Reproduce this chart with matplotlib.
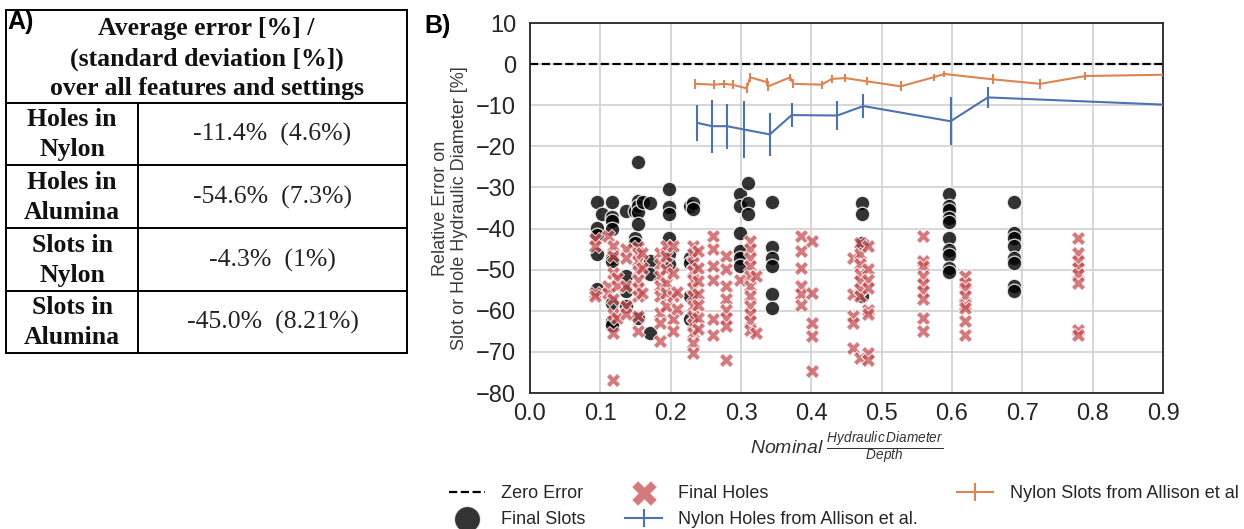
import matplotlib
matplotlib.use('Agg')
import matplotlib.pyplot as plt

plt.rcParams['font.family'] = ['Liberation Sans', 'DejaVu Sans']
plt.rcParams['mathtext.fontset'] = 'custom'
plt.rcParams['mathtext.it'] = 'Liberation Sans:italic'
plt.rcParams['mathtext.rm'] = 'Liberation Sans'

# ---------------- Data ----------------
# Nylon holes from Allison et al. (blue)
nylon_holes_x = [0.238, 0.259, 0.280, 0.304, 0.341, 0.372, 0.437, 0.474, 0.598, 0.651, 1.0]
nylon_holes_y = [-14.3, -15.1, -15.1, -15.9, -17.1, -12.4, -12.5, -10.2, -13.9, -8.1, -10.55]
nylon_holes_err = [4.4, 6.4, 5.5, 6.9, 5.2, 3.0, 3.6, 2.85, 5.8, 2.6, 0.0]

# Nylon slots from Allison et al. (orange)
nylon_slots_x = [0.235, 0.262, 0.276, 0.289, 0.308, 0.313, 0.337, 0.339, 0.370, 0.3745,
                 0.415, 0.429, 0.448, 0.479, 0.527, 0.574, 0.589, 0.658, 0.7255, 0.7895, 1.0]
nylon_slots_y = [-4.8, -5.0, -4.8, -5.05, -5.9, -3.2, -4.4, -5.4, -3.2, -4.8,
                 -5.0, -3.6, -3.4, -4.2, -5.4, -3.2, -2.4, -3.7, -4.8, -2.9, -2.3]
nylon_slots_err = [1.2, 1.1, 0.9, 1.1, 1.2, 1.1, 1.0, 1.2, 0.9, 1.1,
                   1.0, 1.0, 1.0, 1.0, 1.2, 0.9, 0.8, 1.2, 1.2, 1.0, 0.0]

# Final slots (black circles): column x positions and the y values of each column
slot_cols_x = [0.095, 0.102, 0.117, 0.137, 0.149, 0.154, 0.161, 0.171, 0.198,
               0.227, 0.232, 0.2985, 0.3103, 0.3435, 0.4715, 0.596, 0.6885]
slot_cols_y = [
    [-33.5, -39.8, -41.5, -46.3, -54.8],
    [-36.5],
    [-33.5, -37.3, -38.1, -40.2, -47.1, -47.9, -58.0, -62.5, -63.5],
    [-35.7, -51.6, -55.2, -58.9],
    [-35.7, -42.2, -43.5],
    [-23.9, -33.3, -34.5, -36.0, -39.0, -61.7],
    [-33.5],
    [-33.7, -47.9, -51.1, -65.4],
    [-30.4, -34.8, -36.5, -42.2, -46.3, -48.7],
    [-34.5, -47.1, -48.3, -56.4, -62.1],
    [-33.7, -35.3],
    [-31.6, -34.5, -41.0, -45.5, -47.1, -49.1],
    [-28.8, -33.7, -36.5],
    [-33.5, -44.6, -47.1, -49.1, -56.0, -59.3],
    [-33.7, -36.5, -43.5, -56.5],
    [-31.6, -34.5, -35.5, -37.5, -38.5, -42.4, -45.3, -46.5, -49.5, -50.5],
    [-33.5, -41.0, -42.2, -44.2, -47.1, -48.3, -54.0, -55.2],
]

# Final holes (red X): column x positions and the y values of each column
hole_cols_x = [0.093, 0.111, 0.1185, 0.123, 0.137, 0.154, 0.159, 0.185, 0.194, 0.204,
               0.2085, 0.232, 0.239, 0.2597, 0.2786, 0.2985, 0.3127, 0.322, 0.386,
               0.4005, 0.4597, 0.469, 0.481, 0.559, 0.619, 0.779]
hole_cols_y = [
    [-42.6, -44.2, -55.6, -56.4],
    [-41.8, -54.0, -55.6],
    [-44.2, -46.7, -50.7, -57.2, -60.9, -65.4, -76.8],
    [-52.0, -54.0, -61.7],
    [-45.0, -47.1, -54.0, -58.9, -60.9],
    [-44.6, -45.9, -47.9, -50.3, -52.4, -54.4, -56.4, -61.3, -65.0],
    [-45.9, -49.5, -55.6],
    [-45.9, -48.7, -51.6, -54.0, -56.4, -60.5, -62.9, -67.4],
    [-44.2, -46.7, -49.9, -53.2, -55.6, -58.9],
    [-44.2, -50.7, -56.4, -62.1, -65.0],
    [-55.5, -59.5],
    [-44.2, -46.3, -48.3, -50.3, -52.4, -54.4, -56.4, -58.9, -61.3, -63.3, -65.4, -67.8, -70.2],
    [-45.5, -49.5, -52.8, -56.0, -58.5, -61.7, -64.5],
    [-41.8, -45.0, -49.1, -52.4, -62.1, -65.8],
    [-46.7, -49.9, -54.0, -57.2, -59.7, -61.7, -63.8, -71.9],
    [-52.4],
    [-43.0, -45.0, -47.1, -49.1, -51.6, -54.0, -56.4, -58.9, -60.9, -62.5, -64.6],
    [-51.6, -65.4],
    [-41.8, -45.5, -49.5, -54.0, -56.0, -58.5],
    [-43.0, -55.6, -62.9, -66.2, -74.7],
    [-47.1, -56.0, -61.3, -62.9, -69.0],
    [-43.4, -46.3, -48.7, -51.1, -52.8, -54.8, -56.4, -71.5],
    [-44.2, -49.9, -52.4, -54.4, -59.7, -60.9, -70.2, -71.9],
    [-41.8, -47.9, -49.1, -51.6, -53.6, -55.2, -57.2, -61.7, -65.0],
    [-51.6, -53.2, -54.4, -56.4, -58.5, -59.3, -62.5, -65.8],
    [-42.2, -45.9, -47.9, -49.5, -51.1, -53.2, -64.6, -65.8],
]

x_ticks = [0.0, 0.1, 0.2, 0.3, 0.4, 0.5, 0.6, 0.7, 0.8, 0.9]
y_ticks = [-80, -70, -60, -50, -40, -30, -20, -10, 0, 10]

# Table (panel A)
table_header = ["Average error [%] /", "(standard deviation [%])", "over all features and settings"]
table_rows = [("Holes in", "Nylon"), ("Holes in", "Alumina"), ("Slots in", "Nylon"), ("Slots in", "Alumina")]
table_values = ["-11.4%  (4.6%)", "-54.6%  (7.3%)", "-4.3%  (1%)", "-45.0%  (8.21%)"]

# ---------------- Figure ----------------
W, H = 1244, 529
fig = plt.figure(figsize=(W / 100, H / 100), dpi=100)

# Panel A table drawn in pixel coordinates
axt = fig.add_axes([0, 0, 1, 1])
axt.set_xlim(0, W)
axt.set_ylim(H, 0)
axt.axis('off')
L, R, C = 6, 407, 138
row_lines = [10, 102.5, 165, 228.3, 291, 352.5]
lk = dict(color='black', lw=1.4)
axt.plot([L, L], [row_lines[0], row_lines[-1]], **lk)
axt.plot([R, R], [row_lines[0], row_lines[-1]], **lk)
for yy in row_lines:
    axt.plot([L, R], [yy, yy], **lk)
axt.plot([C, C], [row_lines[1], row_lines[-1]], **lk)
serif = ['Liberation Serif', 'DejaVu Serif']
for i, line in enumerate(table_header):
    axt.text((L + R) / 2, [28, 59, 89][i], line, ha='center', va='center',
             family=serif, weight='bold', fontsize=18.5, color='#111111')
for i, (lab, val) in enumerate(zip(table_rows, table_values)):
    y0, y1 = row_lines[i + 1], row_lines[i + 2]
    yc = (y0 + y1) / 2
    axt.text((L + C) / 2, yc - 14, lab[0], ha='center', va='center', family=serif,
             weight='bold', fontsize=18.5, color='#111111')
    axt.text((L + C) / 2, yc + 16, lab[1], ha='center', va='center', family=serif,
             weight='bold', fontsize=18.5, color='#111111')
    axt.text((C + R) / 2, yc + 1, val, ha='center', va='center', family=serif,
             fontsize=18.5, color='#222222')
axt.text(7, 22, "A)", ha='left', va='center', fontsize=18, weight='bold', color='black')
axt.text(424, 26, "B)", ha='left', va='center', fontsize=18, weight='bold', color='black')

# Panel B
ax = fig.add_axes([530 / W, 1 - 393 / H, 633 / W, 370 / H])
ax.set_facecolor('white')
ax.grid(True, color='#d0d0d0', lw=1.2, zorder=0)
ax.set_axisbelow(True)

ax.axhline(0, color='black', ls='--', lw=1.6, label='Zero Error', zorder=2)

slot_x = [x for x, ys in zip(slot_cols_x, slot_cols_y) for _ in ys]
slot_y = [y for ys in slot_cols_y for y in ys]
hole_x = [x for x, ys in zip(hole_cols_x, hole_cols_y) for _ in ys]
hole_y = [y for ys in hole_cols_y for y in ys]

ax.scatter(slot_x, slot_y, s=110, c='black', alpha=0.8, edgecolors='white',
           linewidths=1.0, label='Final Slots', zorder=3)
ax.scatter(hole_x, hole_y, s=105, marker='X', c='#C44E52', alpha=0.75,
           edgecolors='white', linewidths=0.8, label='Final Holes', zorder=4)
ax.errorbar(nylon_holes_x, nylon_holes_y, yerr=nylon_holes_err, color='#4C72B0',
            lw=1.5, elinewidth=1.5, capsize=0, label='Nylon Holes from Allison et al.', zorder=5)
ax.errorbar(nylon_slots_x, nylon_slots_y, yerr=nylon_slots_err, color='#DD8452',
            lw=1.5, elinewidth=1.5, capsize=0, label='Nylon Slots from Allison et al', zorder=5)

ax.set_xlim(0, 0.9)
ax.set_ylim(-80, 10)
ax.set_xticks(x_ticks)
ax.set_yticks(y_ticks)
ax.tick_params(axis='both', length=0, labelsize=17, labelcolor='#262626')
ax.tick_params(axis='y', pad=10)
ax.tick_params(axis='x', pad=7)
for sp in ax.spines.values():
    sp.set_color('#262626')
    sp.set_linewidth(1.3)

ax.set_ylabel("Relative Error on\nSlot or Hole Hydraulic Diameter [%]", fontsize=13,
              color='#3a3a3a', labelpad=6, linespacing=1.1)
ax.set_xlabel(r'$Nominal\ \frac{Hydraulic\,Diameter}{Depth}$', fontsize=14,
              color='#333333', labelpad=4)

handles, labels = ax.get_legend_handles_labels()
order = ['Zero Error', 'Final Slots', 'Final Holes', 'Nylon Holes from Allison et al.',
         'Nylon Slots from Allison et al']
hmap = dict(zip(labels, handles))
leg = fig.legend([hmap[k] for k in order], order, loc='upper left',
                 bbox_to_anchor=(449 / W, 1 - 485 / H), ncol=3, frameon=False,
                 fontsize=13, markerscale=1.8, handlelength=2.0, handletextpad=0.9,
                 columnspacing=2.2, labelspacing=0.5, borderpad=0, borderaxespad=0)
for t in leg.get_texts():
    t.set_color('#262626')

fig.savefig('out.png', dpi=100)
